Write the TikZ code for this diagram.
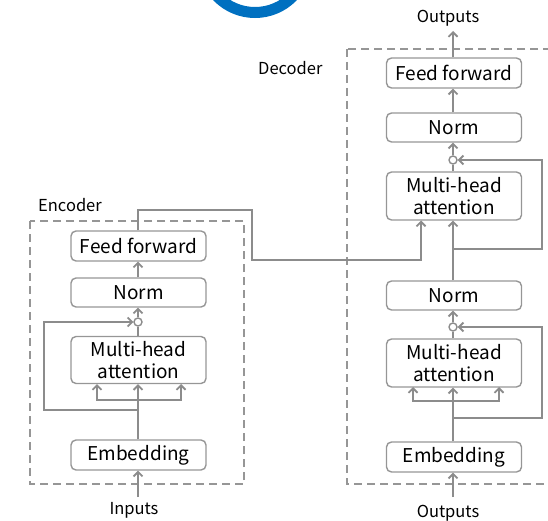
\documentclass[tikz,border=0pt]{standalone}
\usepackage{fontspec}
\setmainfont{Noto Sans CJK JP}
\usetikzlibrary{arrows.meta}
\definecolor{lgray}{RGB}{140,140,140}
\definecolor{bgray}{RGB}{150,150,150}
\definecolor{ringblue}{RGB}{0,112,192}
\tikzset{
  blk/.style={draw=bgray, line width=1.4pt, rounded corners=5pt, minimum width=135pt,
    inner sep=0pt, align=center, font=\fontsize{19}{22}\selectfont, text=black},
  ln/.style={draw=lgray, line width=2.2pt},
  arr/.style={ln, -{Straight Barb[length=4.5pt,width=9pt,line width=1.8pt]}},
  sumc/.style={circle, draw=lgray, line width=1.4pt, fill=white, minimum size=8pt, inner sep=0pt},
  grp/.style={draw=bgray, line width=1.6pt, dash pattern=on 8pt off 5pt},
  lbl/.style={font=\fontsize{16.5}{19}\selectfont, text=black, inner sep=0pt}
}
\begin{document}
\begin{tikzpicture}[x=1pt,y=-1pt]
\useasboundingbox (0,0) rectangle (548,521);
\begin{scope}
\clip (0,0) rectangle (548,521);
\draw[ringblue, line width=11pt] (255,-40) circle (52.5);
% group boxes
\draw[grp] (30,221) rectangle (244,484);
\draw[grp] (347,49) rectangle (560,484);
\end{scope}
\node[lbl, anchor=west] (encL) at (38,205) {Encoder};
\node[lbl, anchor=west] (decL) at (258,68) {Decoder};

% encoder blocks
\node[blk, minimum height=30pt] (ffE) at (138.5,246) {Feed forward};
\node[blk, minimum height=29pt] (normE) at (138.5,292.5) {Norm};
\node[blk, minimum height=47pt] (mhaE) at (138.5,360) {\raisebox{-2pt}{Multi-head}\\\raisebox{-2pt}{attention}};
\node[blk, minimum height=30pt] (embE) at (138.5,455) {Embedding};
\node[sumc] (cE) at (138,322) {};

% decoder blocks
\node[blk, minimum height=30pt] (ffD) at (454,73) {Feed forward};
\node[blk, minimum height=29pt] (normD1) at (454,127.5) {Norm};
\node[blk, minimum height=48pt] (mhaD1) at (454,196) {\raisebox{-2pt}{Multi-head}\\\raisebox{-2pt}{attention}};
\node[blk, minimum height=29pt] (normD2) at (454,295.5) {Norm};
\node[blk, minimum height=48pt] (mhaD2) at (454,363) {\raisebox{-2pt}{Multi-head}\\\raisebox{-2pt}{attention}};
\node[blk, minimum height=30pt] (embD) at (454,457) {Embedding};
\node[sumc] (cD1) at (453,160) {};
\node[sumc] (cD2) at (453,327) {};

% labels
\node[lbl] (inL) at (134,510) {Inputs};
\node[lbl] (outL) at (448,513) {Outputs};
\node[lbl] (outTL) at (448,18) {Outputs};

% coordinates
\coordinate (inE) at (138,497);
\coordinate (bE) at (138,400);
\coordinate (rE) at (138,410);
\coordinate (inD) at (453,497);
\coordinate (bD) at (453,401);
\coordinate (rD2) at (453,418);
\coordinate (rD1) at (453,249);
\coordinate (outT) at (453,31);

% encoder connectors
\draw[arr] (inE) -- (embE.south -| inE);
\draw[arr] (embE.north -| inE) -- (mhaE.south -| inE);
\draw[arr] (bE) -| (97,384);
\draw[arr] (bE) -| (181,384);
\draw[arr] (rE) -- (44,410) |- (cE.west);
\draw[ln] (mhaE.north -| cE) -- (cE.south);
\draw[arr] (cE.north) -- (normE.south -| cE);
\draw[arr] (normE.north -| cE) -- (ffE.south -| cE);
\draw[arr] (ffE.north -| cE) |- (252,210) |- (421,260) -- (421,220.5);

% decoder connectors
\draw[arr] (inD) -- (embD.south -| inD);
\draw[arr] (embD.north -| inD) -- (mhaD2.south -| inD);
\draw[arr] (bD) -| (413,387);
\draw[arr] (bD) -| (499,387);
\draw[arr] (rD2) -- (542,418) |- (cD2.east);
\draw[ln] (mhaD2.north -| cD2) -- (cD2.south);
\draw[arr] (cD2.north) -- (normD2.south -| cD2);
\draw[arr] (normD2.north -| cD2) -- (mhaD1.south -| cD2);
\draw[arr] (rD1) -- (542,249) |- (cD1.east);
\draw[ln] (mhaD1.north -| cD1) -- (cD1.south);
\draw[arr] (cD1.north) -- (normD1.south -| cD1);
\draw[arr] (normD1.north -| cD1) -- (ffD.south -| cD1);
\draw[arr] (ffD.north -| cD1) -- (outT);
\end{tikzpicture}
\end{document}
